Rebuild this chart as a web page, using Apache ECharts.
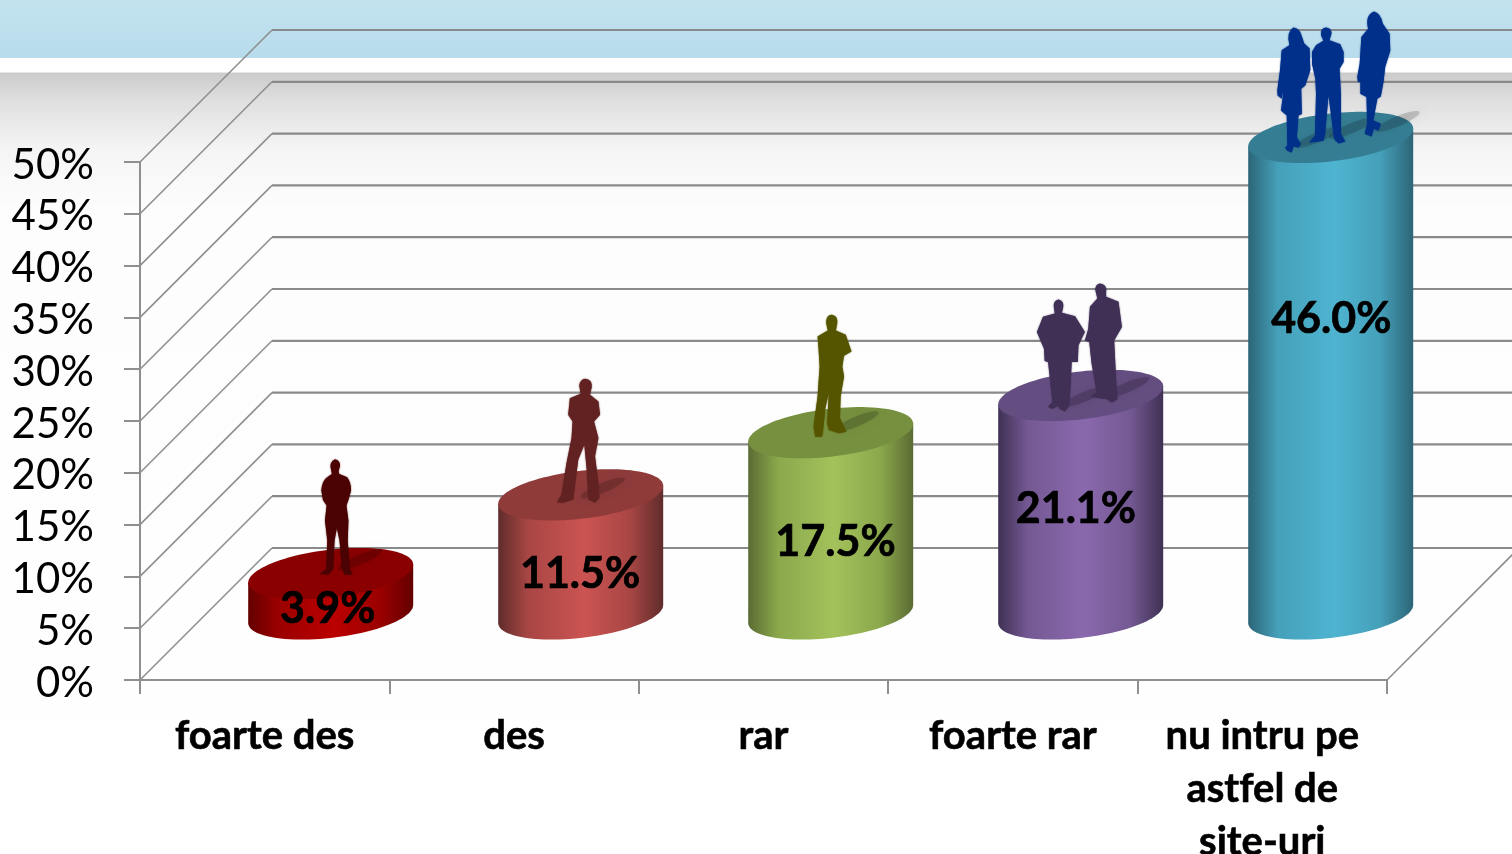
<!DOCTYPE html>
<html>
<head>
<meta charset="utf-8">
<script src="https://cdn.jsdelivr.net/npm/echarts@6/dist/echarts.min.js"></script>
<style>html,body{margin:0;padding:0;background:#fff}#c{width:1512px;height:854px}</style>
</head>
<body>
<div id="c"></div>
<script>
const categories = ['foarte des', 'des', 'rar', 'foarte rar', 'nu intru pe\nastfel de\nsite-uri'];
const percentValues = [3.9, 11.5, 17.5, 21.1, 46.0];
const tickValues = [0, 5, 10, 15, 20, 25, 30, 35, 40, 45, 50];

const palette = [
  {edge:'#640000', mid:'#9a0000', bright:'#bb0000', top:'#8a0000', fig:'#4a0202'},
  {edge:'#5f2c2b', mid:'#a84644', bright:'#cb5452', top:'#8e3b3a', fig:'#622222'},
  {edge:'#5b6b33', mid:'#8ba84c', bright:'#a3c25b', top:'#76903f', fig:'#555500'},
  {edge:'#3f3154', mid:'#745993', bright:'#8a68ad', top:'#644d80', fig:'#403055'},
  {edge:'#2c6577', mid:'#45a0b9', bright:'#4fb4d1', top:'#357d93', fig:'#00308a'}
];

const SIL = {
  manA:'M570 57C580 57 588 65 586 78L582 92L584 100L608 110Q620 125 620 150L612 178L606 195L612 240L610 300L616 385L625 402L600 402L592 380L585 300L577 262L570 300L566 385L552 402L525 400L545 385L548 300L541 240L546 195L535 178L530 150Q532 120 548 110L562 100L560 90Q553 65 570 57Z',
  suit:'M167 27Q187 30 185 52L180 75L205 95L210 135L192 155L205 205L195 260L205 340L208 385L195 400L175 390L170 300L163 225L145 270L130 390L100 400L82 398L95 375L110 280L125 205L128 155L115 135L120 85L152 72L148 48Q150 28 167 27Z',
  green:'M304 45Q322 48 320 70L316 92L345 105L362 155L340 168L335 200L340 230L330 290L328 355L347 395L325 400L295 390L290 370L295 280L285 325L278 395L275 410L255 410L250 380L262 290L268 200L265 150L262 110L292 92L287 68Q288 46 304 45Z',
  jacket:'M236 88Q252 92 250 110L246 128L285 138L314 185L295 225L293 275L275 275L272 340L268 405L255 422L240 415L235 405L218 415L205 408L218 395L205 275L195 272L193 235L172 185L190 140L225 130L222 110Q220 92 236 88Z',
  tall:'M360 40Q382 44 378 65L378 80L415 95L425 170L402 210L408 330L412 385L395 395L380 385L352 382L333 378L350 365L335 280L328 215L315 210L325 175L330 110L352 85L346 60Q346 42 360 40Z',
  woman1:'M190 82Q210 85 215 110L222 130L238 145L240 210L225 255L213 265L215 340L205 345L200 410L212 430L205 440L190 437L185 455L172 450L165 440L172 435L170 345L153 330L158 290L157 270L155 295L143 285L142 270L150 210L155 150L178 135Q168 95 190 82Z',
  manF:'M288 82Q304 84 304 100L298 120L330 132L340 155L340 185L328 205L332 280L332 400L345 422L325 428L312 415L295 285L285 400L280 420L238 425L255 405L258 280L256 235L246 190L246 155L258 135L280 122L273 105Q270 85 288 82Z',
  woman2:'M432 33Q452 38 458 70L478 100L480 150L465 200L460 245L452 288L442 295L430 360L452 370L445 390L432 385L425 408L405 400L412 370L410 290L392 280L392 245L385 245L383 230L390 190L395 110L415 85Q405 45 432 33Z'
};
const figures = [
  [{p:'manA',  dx:-11, dy:-114, w:33, h:115}],
  [{p:'suit',  dx:-23, dy:-116, w:43, h:124}],
  [{p:'green', dx:-16, dy:-118, w:38, h:122}],
  [{p:'jacket',dx:-42, dy:-96,  w:48, h:112},{p:'tall',dx:6,dy:-112,w:37,h:119}],
  [{p:'woman1',dx:-51, dy:-110, w:33, h:125},{p:'manF',dx:-19,dy:-110,w:36,h:116},{p:'woman2',dx:29,dy:-126,w:33,h:125}]
];
const labelShift = [[-3,36],[0,79],[6,109],[-3,114],[3,182]];

const DEPTH = 132, OFF = 66, RX = 82.5, RY = 24, TILT = 9, LABEL_STYLE = '700 43px Lato';

function ellipsePts(cx, cy, from, to, n){
  const pts = [];
  for (let k = 0; k <= n; k++){
    const t = from + (to - from) * k / n;
    pts.push([cx + RX*Math.cos(t), cy - TILT*Math.cos(t) + RY*Math.sin(t)]);
  }
  return pts;
}

function renderWall(params, api){
  const cs = params.coordSys;
  const y = api.coord([0, api.value(1)])[1];
  const side = {stroke:'#8f8f8f', lineWidth:1.6, fill:null};
  const back = {stroke:'#8a8a8a', lineWidth:2.2, fill:null};
  const children = [
    {type:'line', shape:{x1:cs.x,y1:y,x2:cs.x+DEPTH,y2:y-DEPTH}, style:side, silent:true},
    {type:'line', shape:{x1:cs.x+DEPTH,y1:y-DEPTH,x2:1530,y2:y-DEPTH}, style:back, silent:true}
  ];
  if (api.value(1) === 0){
    children.push({type:'line', shape:{x1:cs.x+cs.width,y1:y,x2:cs.x+cs.width+DEPTH,y2:y-DEPTH}, style:side, silent:true});
  }
  return {type:'group', children};
}

function renderCyl(params, api){
  const i = api.value(0), v = api.value(1);
  const top = api.coord([i, v]), base = api.coord([i, 0]);
  const ax = top[0] + OFF, cx = ax + i*0.6, cy = top[1] - OFF, by = base[1] - OFF;
  const c = palette[i];
  const grad = new echarts.graphic.LinearGradient(0,0,1,0,[
    {offset:0,color:c.edge},{offset:.18,color:c.mid},{offset:.52,color:c.bright},
    {offset:.8,color:c.mid},{offset:1,color:c.edge}]);
  const bodyPts = [ [cx-RX, cy+TILT], [cx+RX, cy-TILT] ].concat(ellipsePts(cx, by, 0, Math.PI, 48));
  const kids = [
    {type:'polygon', shape:{points:bodyPts}, style:{fill:grad}, silent:true},
    {type:'polygon', shape:{points:ellipsePts(cx, cy, 0, Math.PI*2, 96)}, style:{fill:c.top}, silent:true}
  ];
  figures[i].forEach(f => {
    const fx = ax + f.dx + f.w*0.55, fy = cy + f.dy + f.h - 6;
    kids.push({type:'ellipse', x:fx+22, y:fy-9, rotation:0.4,
      shape:{cx:0, cy:0, rx:24, ry:5},
      style:{fill:'rgba(0,0,0,0.17)', shadowBlur:7, shadowColor:'rgba(0,0,0,0.3)'}, silent:true});
  });
  figures[i].forEach(f => {
    kids.push({type:'path', shape:{pathData:SIL[f.p], layout:'cover', x:ax+f.dx, y:cy+f.dy, width:f.w, height:f.h},
      style:{fill:c.fig, shadowBlur:1.5, shadowColor:c.fig}, silent:true});
  });
  kids.push({type:'text', x:ax+labelShift[i][0], y:cy+labelShift[i][1],
    style:{text:v.toFixed(1)+'%', fill:'#000', font:LABEL_STYLE, align:'center', verticalAlign:'middle', stroke:'#000', lineWidth:0.7}, silent:true});
  return {type:'group', children:kids};
}

const chart = echarts.init(document.getElementById('c'), null, {renderer:'canvas'});
const H = 854;
const option = {
  animation:false,
  backgroundColor:new echarts.graphic.LinearGradient(0,0,0,1,[
    {offset:0,color:'#c2e2ee'},{offset:58/H,color:'#b8dcec'},{offset:58/H,color:'#ffffff'},
    {offset:72/H,color:'#ffffff'},{offset:73/H,color:'#cbcbcb'},{offset:100/H,color:'#dfdfdf'},
    {offset:150/H,color:'#f5f5f5'},{offset:210/H,color:'#fdfdfd'},{offset:1,color:'#ffffff'}]),
  grid:{left:140,right:125,top:162,bottom:174,containLabel:false,outerBoundsMode:'none'},
  xAxis:{type:'category',data:categories,
    axisLine:{show:true,lineStyle:{color:'#8f8f8f',width:2}},
    axisTick:{show:true,length:14,alignWithLabel:false,lineStyle:{color:'#8f8f8f',width:2}},
    axisLabel:{interval:0,margin:30,color:'#000',fontFamily:'Lato',fontWeight:700,fontSize:40,lineHeight:53,
      textBorderColor:'#000',textBorderWidth:0.6},
    splitLine:{show:false}},
  yAxis:{type:'value',min:0,max:50,interval:5,
    axisLine:{show:true,lineStyle:{color:'#8f8f8f',width:2}},
    axisTick:{show:true,length:16,lineStyle:{color:'#8f8f8f',width:2}},
    axisLabel:{margin:46,color:'#000',fontFamily:'Lato',fontSize:42,verticalAlign:'top',lineHeight:6,formatter:'{value}%'},
    splitLine:{show:false}},
  series:[
    {type:'custom',renderItem:renderWall,data:tickValues.map(t=>[0,t]),encode:{x:0,y:1},z:1,silent:true},
    {type:'custom',renderItem:renderCyl,data:percentValues.map((v,i)=>[i,v]),encode:{x:0,y:1},z:3,silent:true}
  ]
};
chart.setOption(option);
// Turn off Lato's ligatures ("tf") so the labels read like the reference.
const cv = chart.getDom().querySelector('canvas');
if (cv) { cv.getContext('2d').textRendering = 'optimizeSpeed'; chart.setOption(option, true); }
</script>
</body>
</html>
